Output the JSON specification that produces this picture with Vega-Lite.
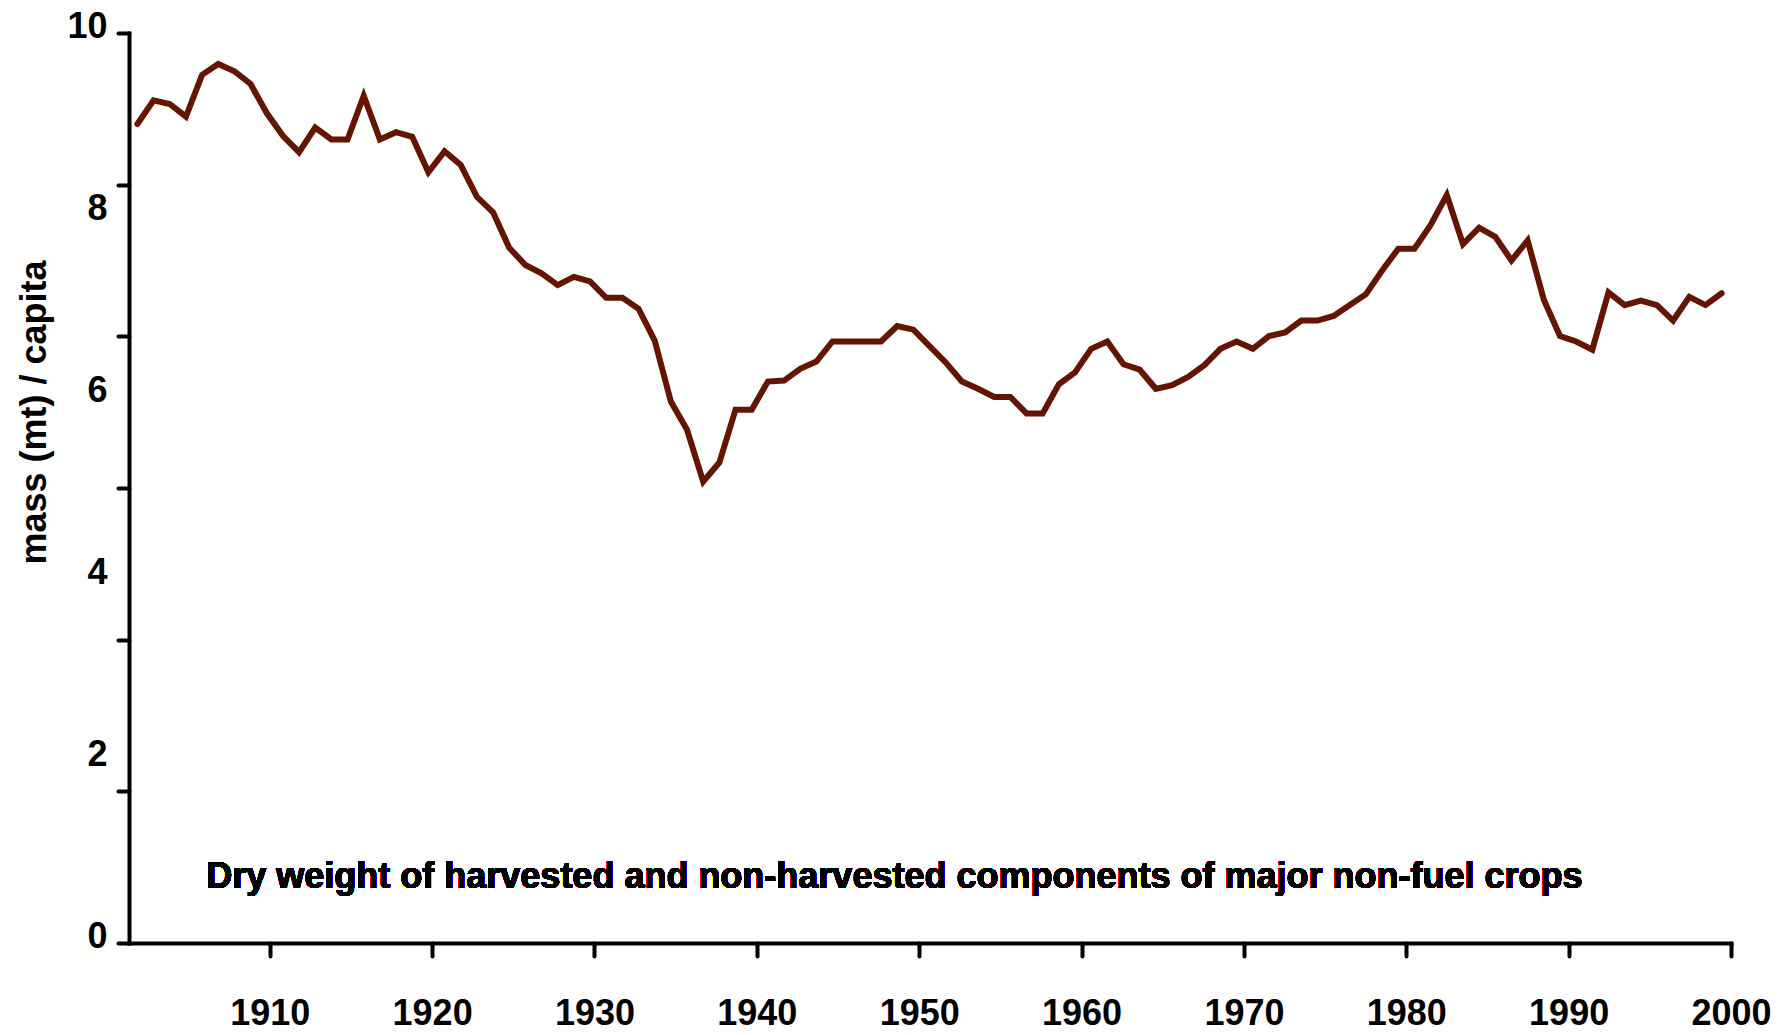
{
  "$schema": "https://vega.github.io/schema/vega-lite/v6.json",
  "width": 1602,
  "height": 910,
  "autosize": {"type": "none"},
  "padding": {"left": 129, "top": 33, "right": 60, "bottom": 92},
  "background": "white",
  "config": {
    "view": {"stroke": null},
    "font": "Liberation Sans",
    "axis": {"grid": false, "labelFont": "Liberation Sans", "titleFont": "Liberation Sans", "labelFontWeight": "bold", "titleFontWeight": "bold", "labelColor": "#000", "titleColor": "#000", "domainColor": "#000", "tickColor": "#000"}
  },
  "data": {"values": [
    {"year": 1901, "value": 9.00}, {"year": 1902, "value": 9.26}, {"year": 1903, "value": 9.22}, {"year": 1904, "value": 9.08},
    {"year": 1905, "value": 9.54}, {"year": 1906, "value": 9.66}, {"year": 1907, "value": 9.58}, {"year": 1908, "value": 9.44},
    {"year": 1909, "value": 9.12}, {"year": 1910, "value": 8.87}, {"year": 1911, "value": 8.69}, {"year": 1912, "value": 8.96},
    {"year": 1913, "value": 8.83}, {"year": 1914, "value": 8.83}, {"year": 1915, "value": 9.31}, {"year": 1916, "value": 8.83},
    {"year": 1917, "value": 8.91}, {"year": 1918, "value": 8.86}, {"year": 1919, "value": 8.47}, {"year": 1920, "value": 8.70},
    {"year": 1921, "value": 8.55}, {"year": 1922, "value": 8.20}, {"year": 1923, "value": 8.03}, {"year": 1924, "value": 7.64},
    {"year": 1925, "value": 7.45}, {"year": 1926, "value": 7.36}, {"year": 1927, "value": 7.23}, {"year": 1928, "value": 7.32},
    {"year": 1929, "value": 7.27}, {"year": 1930, "value": 7.09}, {"year": 1931, "value": 7.09}, {"year": 1932, "value": 6.97},
    {"year": 1933, "value": 6.62}, {"year": 1934, "value": 5.95}, {"year": 1935, "value": 5.64}, {"year": 1936, "value": 5.07},
    {"year": 1937, "value": 5.28}, {"year": 1938, "value": 5.86}, {"year": 1939, "value": 5.86}, {"year": 1940, "value": 6.17},
    {"year": 1941, "value": 6.18}, {"year": 1942, "value": 6.31}, {"year": 1943, "value": 6.39}, {"year": 1944, "value": 6.61},
    {"year": 1945, "value": 6.61}, {"year": 1946, "value": 6.61}, {"year": 1947, "value": 6.61}, {"year": 1948, "value": 6.78},
    {"year": 1949, "value": 6.74}, {"year": 1950, "value": 6.56}, {"year": 1951, "value": 6.38}, {"year": 1952, "value": 6.17},
    {"year": 1953, "value": 6.09}, {"year": 1954, "value": 6.00}, {"year": 1955, "value": 6.00}, {"year": 1956, "value": 5.82},
    {"year": 1957, "value": 5.82}, {"year": 1958, "value": 6.14}, {"year": 1959, "value": 6.27}, {"year": 1960, "value": 6.53},
    {"year": 1961, "value": 6.61}, {"year": 1962, "value": 6.36}, {"year": 1963, "value": 6.30}, {"year": 1964, "value": 6.09},
    {"year": 1965, "value": 6.13}, {"year": 1966, "value": 6.22}, {"year": 1967, "value": 6.35}, {"year": 1968, "value": 6.53},
    {"year": 1969, "value": 6.61}, {"year": 1970, "value": 6.53}, {"year": 1971, "value": 6.67}, {"year": 1972, "value": 6.71},
    {"year": 1973, "value": 6.84}, {"year": 1974, "value": 6.84}, {"year": 1975, "value": 6.89}, {"year": 1976, "value": 7.01},
    {"year": 1977, "value": 7.13}, {"year": 1978, "value": 7.39}, {"year": 1979, "value": 7.63}, {"year": 1980, "value": 7.63},
    {"year": 1981, "value": 7.89}, {"year": 1982, "value": 8.22}, {"year": 1983, "value": 7.68}, {"year": 1984, "value": 7.86},
    {"year": 1985, "value": 7.76}, {"year": 1986, "value": 7.50}, {"year": 1987, "value": 7.72}, {"year": 1988, "value": 7.07},
    {"year": 1989, "value": 6.67}, {"year": 1990, "value": 6.61}, {"year": 1991, "value": 6.52}, {"year": 1992, "value": 7.15},
    {"year": 1993, "value": 7.01}, {"year": 1994, "value": 7.06}, {"year": 1995, "value": 7.01}, {"year": 1996, "value": 6.84},
    {"year": 1997, "value": 7.10}, {"year": 1998, "value": 7.01}, {"year": 1999, "value": 7.14}
  ]},
  "layer": [
    {
      "mark": {"type": "line", "color": "#641500", "strokeWidth": 6, "strokeCap": "round", "strokeJoin": "miter"},
      "encoding": {
        "x": {"field": "year", "type": "quantitative", "scale": {"domain": [1900.48, 1999.58], "nice": false, "zero": false}, "axis": null},
        "y": {"field": "value", "type": "quantitative", "scale": {"domain": [0, 10], "nice": false, "zero": true},
          "axis": {"orient": "left", "values": [0, 1.6667, 3.3333, 5, 6.6667, 8.3333, 10], "labels": false, "title": null,
            "domainWidth": 4, "tickWidth": 4, "tickSize": 11, "tickCap": "round", "domainCap": "square"}}
      }
    },
    {
      "mark": {"type": "line", "strokeOpacity": 0},
      "encoding": {
        "x": {"field": "year", "type": "quantitative", "scale": {"domain": [1901.33, 2000], "nice": false, "zero": false},
          "axis": {"values": [1910, 1920, 1930, 1940, 1950, 1960, 1970, 1980, 1990, 2000], "format": "d", "title": null,
            "labelFontSize": 36, "labelPadding": 40, "tickSize": 13, "tickWidth": 4, "tickCap": "round", "domainWidth": 4, "domainCap": "square",
            "labelOverlap": false, "labelFlush": false}},
        "y": {"field": "value", "type": "quantitative",
          "axis": {"orient": "left", "values": [0, 2, 4, 6, 8, 10], "domain": false, "tickOpacity": 0, "tickSize": 11, "labelPadding": 11,
            "labelFontSize": 36, "labelOffset": -7, "labelOverlap": false, "labelFlush": false,
            "title": "mass (mt) / capita", "titleFontSize": 36, "titleAngle": -90, "titleX": -95, "titleY": 379, "titleAlign": "center", "titleBaseline": "middle"}}
      }
    },
    {
      "mark": {"type": "text", "text": "Dry weight of harvested and non-harvested components of major non-fuel crops", "align": "left", "baseline": "alphabetic", "fontSize": 36, "fontWeight": "bold", "font": "Liberation Sans", "color": "#000"},
      "encoding": {
        "x": {"datum": 1906.09, "type": "quantitative", "scale": {"domain": [1901.33, 2000], "nice": false, "zero": false}, "axis": null},
        "y": {"datum": 0.608, "type": "quantitative", "axis": null}
      }
    }
  ],
  "resolve": {"scale": {"x": "independent"}, "axis": {"y": "independent"}}
}
